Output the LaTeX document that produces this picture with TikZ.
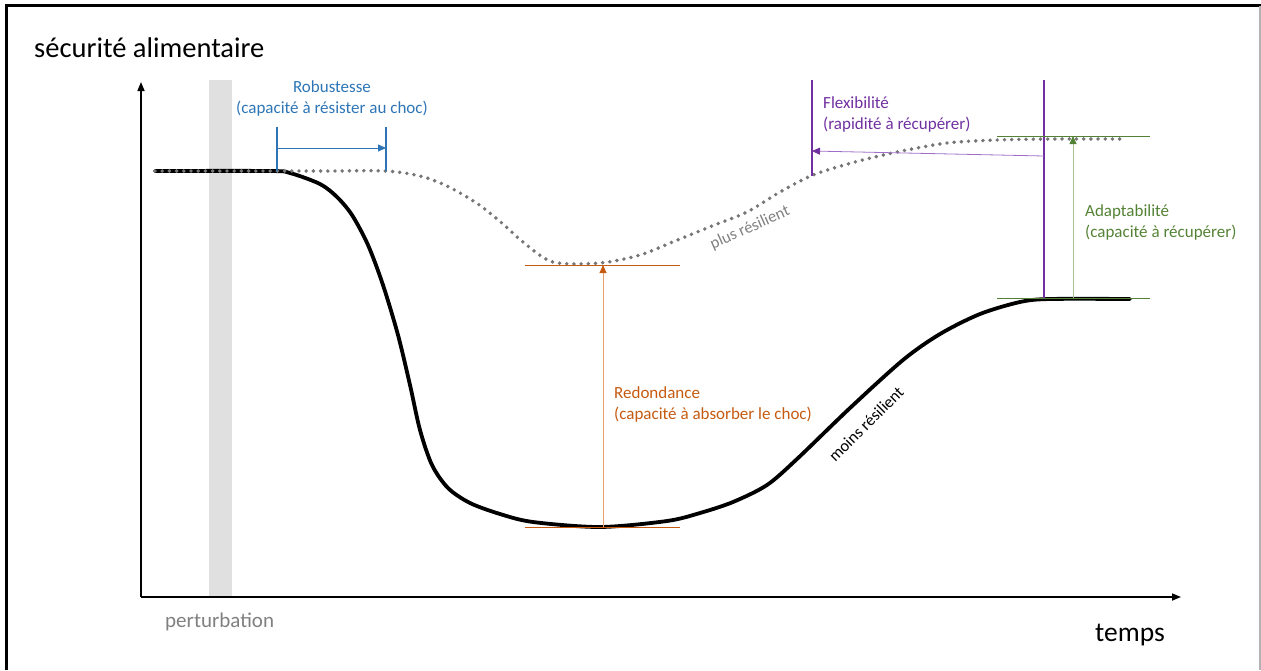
\documentclass[tikz,border=0pt]{standalone}
\usepackage{fontspec}
\setmainfont{Carlito}
\usetikzlibrary{arrows.meta}
\definecolor{robblue}{RGB}{46,117,182}
\definecolor{redorange}{RGB}{197,90,17}
\definecolor{redlight}{RGB}{232,160,110}
\definecolor{flexpurple}{RGB}{112,48,160}
\definecolor{flexlight}{RGB}{160,110,200}
\definecolor{adagreen}{RGB}{84,130,53}
\definecolor{adalight}{RGB}{169,196,148}
\definecolor{dotgray}{RGB}{118,118,118}
\definecolor{bandgray}{RGB}{224,224,224}
\begin{document}
\begin{tikzpicture}[x=1pt,y=-1pt,
  lbl/.style={font=\fontsize{17}{21}\selectfont, align=left, inner sep=0pt},
  curvelbl/.style={font=\fontsize{16.5}{19}\selectfont, inner sep=0pt},
  axis/.style={line width=1.6pt, -{Triangle[length=9pt,width=7pt]}},
  dotcurve/.style={dotgray, line width=3.9pt, line cap=round, dash pattern=on 0pt off 7.2pt},
  solidcurve/.style={black, line width=3.8pt, line cap=round, line join=round}]
\useasboundingbox (0,0) rectangle (1261,670);

% frame
\draw[line width=3pt] (5,5) -- (1261,5);
\draw[line width=3pt] (6,5) -- (6,670);
\draw[gray!60, line width=1.2pt] (1260,6) -- (1260,670);

% shock band
\fill[bandgray] (209,80) rectangle (232,597);

% axes
\coordinate (O) at (141,597);
\coordinate (ytop) at (141,82);
\coordinate (xend) at (1181,597);
\draw[axis] (O) -- (ytop);
\draw[axis] (O) -- (xend);

\node[font=\fontsize{28.5}{32}\selectfont, anchor=west, inner sep=0pt] (ylab) at (34,48) {sécurité alimentaire};
\node[font=\fontsize{27.5}{31}\selectfont, anchor=west, inner sep=0pt] (xlab) at (1095,635) {temps};
\node[font=\fontsize{21}{24}\selectfont, text=gray, anchor=west, inner sep=0pt] (pert) at (165,622) {perturbation};

% less resilient trajectory
\draw[solidcurve] plot[smooth, tension=0.5] coordinates {
  (155,171) (270,171) (290,173) (320,184) (337,197) (352,215) (368,245)
  (383,285) (398,335) (410,385) (420,430) (432,465) (448,488) (470,503)
  (500,514) (533,522) (600,527) (667,521) (700,513) (733,502) (767,485)
  (797,459) (850,408) (903,360) (940,334) (980,314) (1020,302)
  (1050,299) (1130,299)};

% more resilient trajectory
\draw[dotcurve] plot[smooth, tension=0.5] coordinates {
  (155,171) (270,171) (330,171) (386,171) (420,176) (447,186) (478,204)
  (503,224) (523,242) (553,262) (600,263) (640,255) (675,241) (712,226)
  (747,212) (780,192) (813,175) (855,162) (897,152) (947,143) (997,140)
  (1050,139) (1124,139)};

\node[curvelbl, text=gray, rotate=24] (plus) at (750,228) {plus résilient};
\node[curvelbl, rotate=45] (moins) at (866,424) {moins résilient};

% robustness
\coordinate (r1t) at (277,127); \coordinate (r1b) at (277,171);
\coordinate (r2t) at (386,127); \coordinate (r2b) at (386,171);
\coordinate (r1m) at (277,148); \coordinate (r2m) at (386,148);
\draw[robblue, line width=1.2pt] (r1t) -- (r1b);
\draw[robblue, line width=1.2pt] (r2t) -- (r2b);
\draw[robblue, line width=0.8pt, -{Triangle[length=8pt,width=7pt]}] (r1m) -- (r2m);
\node[lbl, text=robblue, align=center, anchor=north] (rob) at (332,80) {Robustesse\\(capacité à résister au choc)};

% redundancy
\coordinate (d1l) at (525,265); \coordinate (d1r) at (680,265);
\coordinate (d2l) at (525,527); \coordinate (d2r) at (680,527);
\coordinate (dbot) at (603,527); \coordinate (dtop) at (603,265);
\draw[redorange, line width=1pt] (d1l) -- (d1r);
\draw[redorange, line width=1pt] (d2l) -- (d2r);
\draw[redlight, line width=0.9pt, -{Triangle[length=8pt,width=7pt,color=redorange]}] (dbot) -- (dtop);
\node[lbl, text=redorange, anchor=north west] (red) at (614,386) {Redondance\\(capacité à absorber le choc)};

% flexibility
\coordinate (f1t) at (812,80); \coordinate (f1b) at (812,176);
\coordinate (f2t) at (1044,80); \coordinate (f2b) at (1044,299);
\coordinate (fs) at (1044,156); \coordinate (fe) at (812,151);
\draw[flexpurple, line width=1.2pt] (f1t) -- (f1b);
\draw[flexpurple, line width=1.2pt] (f2t) -- (f2b);
\draw[flexlight, line width=0.8pt, -{Triangle[length=8pt,width=7pt,color=flexpurple]}] (fs) -- (fe);
\node[lbl, text=flexpurple, anchor=north west] (flex) at (823,96) {Flexibilité\\(rapidité à récupérer)};

% adaptability
\coordinate (a1l) at (997,136); \coordinate (a1r) at (1150,136);
\coordinate (a2l) at (997,298); \coordinate (a2r) at (1150,298);
\coordinate (abot) at (1073,298); \coordinate (atop) at (1073,136);
\draw[adagreen, line width=1pt] (a1l) -- (a1r);
\draw[adagreen, line width=1pt] (a2l) -- (a2r);
\draw[adalight, line width=0.9pt, -{Triangle[length=8pt,width=7pt,color=adagreen]}] (abot) -- (atop);
\node[lbl, text=adagreen, anchor=north west] (ada) at (1085,204) {Adaptabilité\\(capacité à récupérer)};
\end{tikzpicture}
\end{document}
